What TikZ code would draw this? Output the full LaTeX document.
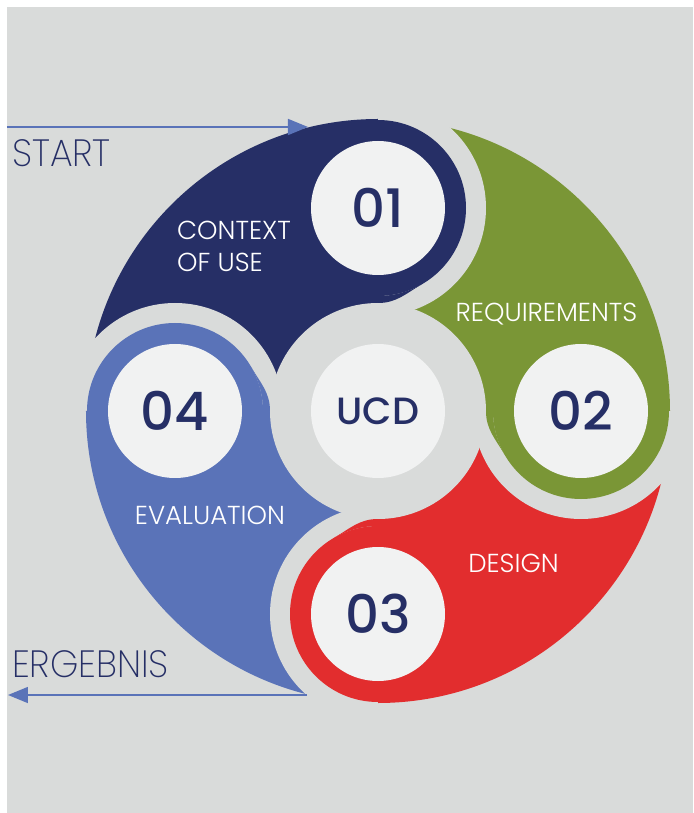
\documentclass[tikz,border=0pt]{standalone}
\usepackage{fontspec}
\setmainfont{Poppins}
\newfontfamily\labfont{Poppins Light}
\newfontfamily\sidefont{Poppins ExtraLight}[FakeStretch=0.95]
\newfontfamily\numfont{Poppins Medium}
\usetikzlibrary{arrows.meta}
\definecolor{bgray}{HTML}{D9DBDA}
\definecolor{navy}{HTML}{262F66}
\definecolor{leaf}{HTML}{7A9636}
\definecolor{scarlet}{HTML}{E22D2E}
\definecolor{steel}{HTML}{5A73B8}
\definecolor{paper}{HTML}{F1F2F2}
\begin{document}
\begin{tikzpicture}[x=1pt,y=1pt,
  numcircle/.style={circle, fill=paper, minimum size=134pt, inner sep=0pt, text=navy,
    font=\numfont\fontsize{53}{53}\selectfont},
  ucdcircle/.style={numcircle, font=\numfont\fontsize{38}{38}\selectfont},
  lab/.style={text=white, font=\labfont\fontsize{26}{30}\selectfont, inner sep=0pt, anchor=base},
  side/.style={text=navy, font=\sidefont\fontsize{38}{40}\selectfont, inner sep=0pt, anchor=base west},
  flow/.style={draw=steel, line width=1.5pt, -{Triangle[length=20pt,width=16pt,fill=steel]}}
]
\useasboundingbox (-378,-402) rectangle (315,411);
\fill[bgray] (-371,-402) rectangle (315,404);
% petals
\foreach \a/\c in {90/navy,180/steel,270/scarlet,0/leaf}{
  \begin{scope}
    \clip (0,0) -- (\a:300) arc[start angle=\a, end angle=\a+90, radius=300] -- cycle;
    \fill[\c] (0,0) circle[radius=292];
    \fill[bgray] (\a+90:203) circle[radius=108];
  \end{scope}
}
\fill[bgray] (0,0) circle[radius=108];
% rings with a smooth fillet towards the centre gap
\foreach \a/\c in {90/navy,180/steel,270/scarlet,0/leaf}{
  \begin{scope}[rotate=\a-90]
    \fill[\c] (0,203) circle[radius=88];
    \fill[\c] (0,108) to[out=0,in=210] (44,126.8)
      arc[start angle=-60, end angle=-90, radius=88] -- cycle;
  \end{scope}
}
% number circles
\node[numcircle] (n1) at (90:203) {01};
\node[numcircle] (n2) at (0:203) {02};
\node[numcircle] (n3) at (270:203) {03};
\node[numcircle] (n4) at (180:203) {04};
\node[ucdcircle] (ucd) at (0,0) {UCD};
% labels
\node[lab, anchor=base west] (ctx) at (-201,171) {CONTEXT};
\node[lab, anchor=base west] (ofuse) at (-201,139) {OF USE};
\node[lab] (req) at (168.5,89) {REQUIREMENTS};
\node[lab] (eval) at (-168,-113) {EVALUATION};
\node[lab] (des) at (135.5,-161) {DESIGN};
\node[side] (start) at (-366,244) {START};
\node[side] (erg) at (-366,-266) {ERGEBNIS};
% arrows
\coordinate (startL) at (-371,284);
\coordinate (startR) at (-70,284);
\coordinate (endR) at (-71,-284);
\coordinate (endL) at (-370,-284);
\draw[flow] (startL) -- (startR);
\draw[flow] (endR) -- (endL);
\end{tikzpicture}
\end{document}
